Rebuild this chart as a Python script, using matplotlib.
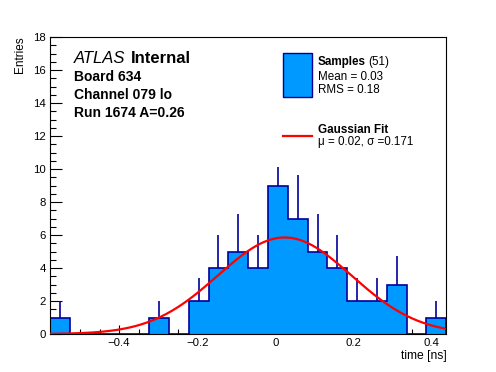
import matplotlib
matplotlib.use('Agg')
import matplotlib.pyplot as plt
from matplotlib.patches import Rectangle
from matplotlib.ticker import MultipleLocator
import numpy as np

plt.rcParams['font.family'] = ['Liberation Sans', 'DejaVu Sans']

# histogram of time residuals [ns], 20 bins
x_lo, x_hi = -0.577, 0.438
counts = np.array([1, 0, 0, 0, 0, 1, 0, 2, 4, 5, 4, 9, 7, 5, 4, 2, 2, 3, 0, 1])
errors = np.array([1, 0, 0, 0, 0, 1, 0, 1.4, 2, 2.25, 2, 1.15, 2.65, 2.25, 2, 1.4, 1.4, 1.75, 0, 1])

# gaussian fit
fit_amp = 5.85
fit_mu = 0.024
fit_sigma = 0.171

n_samples = 51
mean_txt = '0.03'
rms_txt = '0.18'

info_lines = ['Board 634', 'Channel 079 lo', 'Run 1674 A=0.26']

fill_col = '#0099ff'
edge_col = '#000099'

fig = plt.figure(figsize=(4.96, 3.72), dpi=100)
ax = fig.add_axes([50/496, 1-334/372, 396.3/496, 297/372])

edges = np.linspace(x_lo, x_hi, len(counts) + 1)
centers = 0.5 * (edges[:-1] + edges[1:])
ax.stairs(counts, edges, fill=True, facecolor=fill_col, edgecolor=edge_col, lw=1.2, zorder=2)
m = counts > 0
ax.vlines(centers[m], counts[m], counts[m] + errors[m], color=edge_col, lw=1.2, zorder=3)

xf = np.linspace(x_lo, x_hi, 300)
ax.plot(xf, fit_amp * np.exp(-0.5 * ((xf - fit_mu) / fit_sigma) ** 2), color='#ff0000', lw=1.6, zorder=4)

ax.set_xlim(x_lo, x_hi)
ax.set_ylim(0, 18)
ax.xaxis.set_major_locator(MultipleLocator(0.2))
ax.xaxis.set_minor_locator(MultipleLocator(0.05))
ax.yaxis.set_major_locator(MultipleLocator(2))
ax.yaxis.set_minor_locator(MultipleLocator(0.5))
ax.tick_params(which='both', direction='in', top=False, right=False, width=0.8, labelsize=8.2)
ax.tick_params(axis='x', which='major', length=6.5, pad=3)
ax.tick_params(axis='x', which='minor', length=3.3)
ax.tick_params(axis='y', which='major', length=8.4, pad=3)
ax.tick_params(axis='y', which='minor', length=4.2)
ax.xaxis.set_major_formatter(plt.FuncFormatter(lambda v, p: '0' if abs(v) < 1e-9 else f'{v:.1f}'.replace('-', '\u2212')))
for s in ax.spines.values():
    s.set_linewidth(0.8)

fig.text(0.040, 1 - 36/372, 'Entries', rotation=90, ha='center', va='top', fontsize=8.5)
fig.text(446.5/496, 1 - 359/372, 'time [ns]', ha='right', va='baseline', fontsize=8.7)

# ATLAS label
t = ax.text(0.0606, 1 - (63.3 - 37) / 297, 'ATLAS', style='italic', fontsize=12, transform=ax.transAxes, va='baseline')
ax.annotate('Internal', xy=(1, 0), xycoords=t, xytext=(3.5, 0), textcoords='offset points',
            va='bottom', fontsize=12, fontweight='bold')
for i, line in enumerate(info_lines):
    ax.text(0.0606, 1 - (81 - 37 + i * 18.1) / 297, line, fontsize=10, fontweight='bold',
            transform=ax.transAxes, va='baseline')

# legend
ax.add_patch(Rectangle((0.589, 0.799), 0.071, 0.146, transform=ax.transAxes,
                       facecolor=fill_col, edgecolor=edge_col, lw=1.0, zorder=5))
t2 = ax.text(0.6755, 0.906, 'Samples', fontsize=8.4, fontweight='bold', transform=ax.transAxes, va='baseline')
ax.annotate(f'({n_samples})', xy=(1, 0), xycoords=t2, xytext=(1.8, 0), textcoords='offset points',
            va='bottom', fontsize=8.4)
ax.text(0.6755, 0.855, f'Mean = {mean_txt}', fontsize=8.4, transform=ax.transAxes, va='baseline')
ax.text(0.6755, 0.812, f'RMS = {rms_txt}', fontsize=8.4, transform=ax.transAxes, va='baseline')
ax.plot([0.589, 0.660], [0.666, 0.666], color='#ff0000', lw=1.6, transform=ax.transAxes)
ax.text(0.6755, 0.678, 'Gaussian Fit', fontsize=8.4, fontweight='bold', transform=ax.transAxes, va='baseline')
ax.text(0.6755, 0.638, f'\u03bc = {fit_mu:.2f}, \u03c3 ={fit_sigma:.3f}', fontsize=8.4,
        transform=ax.transAxes, va='baseline')

fig.savefig('out.png', dpi=100)
